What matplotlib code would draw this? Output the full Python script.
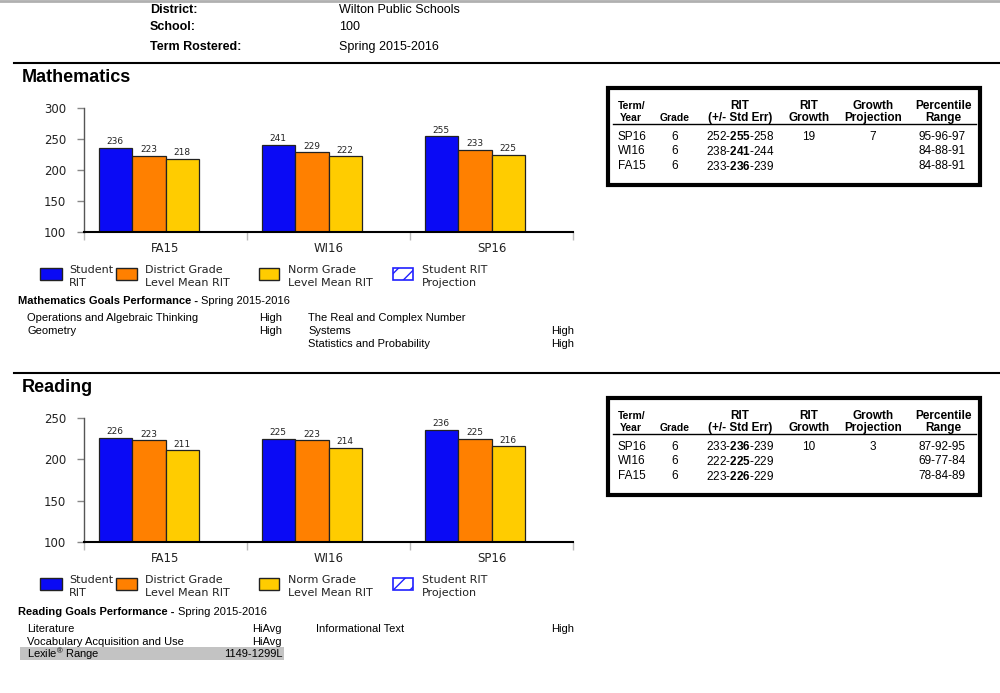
import numpy as np
import matplotlib.pyplot as plt
from matplotlib.patches import Rectangle

plt.rcParams['mathtext.fontset'] = 'custom'
plt.rcParams['mathtext.rm'] = 'Liberation Sans'
plt.rcParams['mathtext.bf'] = 'Liberation Sans:bold'

# data
terms = ['FA15', 'WI16', 'SP16']
series_names = ['Student\nRIT', 'District Grade\nLevel Mean RIT', 'Norm Grade\nLevel Mean RIT', 'Student RIT\nProjection']
math_student = [236, 241, 255]
math_district = [223, 229, 233]
math_norm = [218, 222, 225]
read_student = [226, 225, 236]
read_district = [223, 223, 225]
read_norm = [211, 214, 216]

header_labels = ['District:', 'School:', 'Term Rostered:']
header_values = ['Wilton Public Schools', '100', 'Spring 2015-2016']

table_terms = ['SP16', 'WI16', 'FA15']
table_grade = ['6', '6', '6']
math_rit = [(252, 255, 258), (238, 241, 244), (233, 236, 239)]
math_growth = ['19', '', '']
math_proj = ['7', '', '']
math_pct = ['95-96-97', '84-88-91', '84-88-91']
read_rit = [(233, 236, 239), (222, 225, 229), (223, 226, 229)]
read_growth = ['10', '', '']
read_proj = ['3', '', '']
read_pct = ['87-92-95', '69-77-84', '78-84-89']

math_goals_left = [('Operations and Algebraic Thinking', 'High'), ('Geometry', 'High')]
math_goals_right = [('The Real and Complex Number\nSystems', 'High'), ('Statistics and Probability', 'High')]
read_goals_left = [('Literature', 'HiAvg'), ('Vocabulary Acquisition and Use', 'HiAvg')]
read_goals_right = [('Informational Text', 'High')]
lexile = '1149-1299L'

colors = ['#0a0af5', '#ff8000', '#ffcc00']
W, H = 1000, 693
report_font = 'Liberation Sans'
chart_font = 'DejaVu Sans'

fig = plt.figure(figsize=(10, 6.93), dpi=100)
ov = fig.add_axes([0, 0, 1, 1], zorder=0)
ov.set_xlim(0, W)
ov.set_ylim(H, 0)
ov.axis('off')

#page header
ov.plot([0, W], [1, 1], color='#b0b0b0', lw=2)
for i, (lab, val) in enumerate(zip(header_labels, header_values)):
    y = [10, 27, 47][i]
    ov.text(150, y, lab, fontsize=9, fontweight='bold', family=report_font, va='center')
    ov.text(339, y, val, fontsize=9, family=report_font, va='center')


def chart(top, ymax, student, district, norm):
    #top = pixel y of ymax tick, bottom = top + 124
    bottom = top + 124
    ax = fig.add_axes([84 / W, 1 - bottom / H, (573 - 84) / W, 124 / H], zorder=2)
    ax.set_facecolor('none')
    x = np.arange(len(terms))
    w = 0.2055
    for k, vals in enumerate([student, district, norm]):
        bars = ax.bar(x + (k - 1.5) * w, [v - 100 for v in vals], w, bottom=100,
                      color=colors[k], edgecolor='#222222', linewidth=0.9, align='center')
        for b, v in zip(bars, vals):
            ax.annotate(str(v), (b.get_x() + b.get_width() / 2, v), xytext=(0, 1),
                        textcoords='offset points', ha='center', va='bottom',
                        fontsize=6.5, family=chart_font, color='#222222')
    ax.set_xlim(-0.5, 2.5)
    ax.set_ylim(100, ymax)
    ax.set_yticks(np.arange(100, ymax + 1, 50))
    ax.set_xticks([-0.5, 0.5, 1.5, 2.5])
    ax.set_xticklabels([])
    ax.tick_params(axis='x', length=6, color='#bbbbbb', width=1)
    ax.tick_params(axis='y', length=5, color='#888888', width=1, labelsize=8.5, pad=8)
    for t in ax.get_yticklabels():
        t.set_family(chart_font)
        t.set_color('#222222')
    for i, t in enumerate(terms):
        ax.text(i, -0.13, t, transform=ax.get_xaxis_transform(), ha='center', va='center',
                fontsize=8.5, family=chart_font, color='#222222')
    for s in ['top', 'right']:
        ax.spines[s].set_visible(False)
    ax.spines['left'].set_color('#555555')
    ax.spines['left'].set_linewidth(1)
    ax.spines['bottom'].set_color('black')
    ax.spines['bottom'].set_linewidth(1.5)
    return ax


def legend(y0):
    boxes = [(40, 62), (116, 137), (259, 279), (393, 413)]
    text_x = [69, 145, 288, 422]
    for k, ((x0, x1), tx, name) in enumerate(zip(boxes, text_x, series_names)):
        if k < 3:
            r = Rectangle((x0, y0 - 2), x1 - x0, 12, facecolor=colors[k], edgecolor='#222222', lw=1)
        else:
            r = Rectangle((x0, y0 - 2), x1 - x0, 12, facecolor='white', edgecolor='#2020ff',
                          lw=1.2, hatch='//')
        ov.add_patch(r)
        l1, l2 = name.split('\n')
        ov.text(tx, y0, l1, fontsize=8, family=chart_font, va='center', color='#222222')
        ov.text(tx, y0 + 13, l2, fontsize=8, family=chart_font, va='center', color='#222222')


def goals(y0, subject, left, right, right_x):
    fs = 8
    t = ov.text(18, y0, subject + ' Goals Performance - ', fontsize=fs, fontweight='bold',
                family=report_font, va='center')
    fig.canvas.draw()
    bb = t.get_window_extent()
    ov.text(bb.x1, H - y0, 'Spring 2015-2016', fontsize=fs, family=report_font, va='center',
            transform=None)
    for i, (name, rate) in enumerate(left):
        y = y0 + 17 + i * 13
        ov.text(27, y, name, fontsize=fs, family=report_font, va='center')
        ov.text(282, y, rate, fontsize=fs, family=report_font, va='center', ha='right')
    row = 0
    for name, rate in right:
        for ln in name.split('\n'):
            ov.text(right_x, y0 + 17 + row * 13, ln, fontsize=fs, family=report_font, va='center')
            row += 1
        ov.text(574, y0 + 17 + (row - 1) * 13, rate, fontsize=fs, family=report_font,
                va='center', ha='right')


def table(top, rit, growth, proj, pct):
    ov.add_patch(Rectangle((608, top), 372, 97, facecolor='none', edgecolor='black', lw=3))
    ov.plot([613, 976], [top + 36, top + 36], color='black', lw=1)
    hy1, hy2 = top + 18, top + 30
    ov.text(618, hy1, 'Term/', fontsize=7.5, fontweight='bold', family=report_font, va='center')
    ov.text(620, hy2, 'Year', fontsize=7.5, fontweight='bold', family=report_font, va='center')
    ov.text(675, hy2, 'Grade', fontsize=7.5, fontweight='bold', family=report_font, va='center', ha='center')
    for cx, a, b in [(740, 'RIT', '(+/- Std Err)'), (809, 'RIT', 'Growth'),
                     (873, 'Growth', 'Projection'), (943, 'Percentile', 'Range')]:
        ov.text(cx, hy1, a, fontsize=8.5, fontweight='bold', family=report_font, va='center', ha='center')
        ov.text(cx, hy2, b, fontsize=8.5, fontweight='bold', family=report_font, va='center', ha='center')
    for i in range(len(table_terms)):
        y = top + 49 + i * 14.5
        ov.text(618, y, table_terms[i], fontsize=8.5, family=report_font, va='center')
        ov.text(675, y, table_grade[i], fontsize=8.5, family=report_font, va='center', ha='center')
        lo, mid, hi = rit[i]
        ov.text(740, y, '%d-$\\mathbf{%d}$-%d' % (lo, mid, hi), fontsize=8.5, family=report_font,
                va='center', ha='center')
        ov.text(809, y, growth[i], fontsize=8.5, family=report_font, va='center', ha='center')
        ov.text(873, y, proj[i], fontsize=8.5, family=report_font, va='center', ha='center')
        ov.text(942, y, pct[i], fontsize=8.5, family=report_font, va='center', ha='center')


#Mathematics section
ov.plot([14, W], [63, 63], color='black', lw=1.5)
ov.text(22, 77, 'Mathematics', fontsize=13, fontweight='bold', family=report_font, va='center')
chart(108, 300, math_student, math_district, math_norm)
legend(270)
table(88, math_rit, math_growth, math_proj, math_pct)
goals(301, 'Mathematics', math_goals_left, math_goals_right, 308)

#Reading section
ov.plot([14, W], [373, 373], color='black', lw=1.5)
ov.text(22, 387, 'Reading', fontsize=13, fontweight='bold', family=report_font, va='center')
chart(418, 250, read_student, read_district, read_norm)
legend(580)
table(398, read_rit, read_growth, read_proj, read_pct)
goals(612, 'Reading', read_goals_left, read_goals_right, 316)
#lexile row
ov.add_patch(Rectangle((20, 647), 264, 13, facecolor='#c3c3c3', edgecolor='none', zorder=0))
ov.text(27, 654, 'Lexile$^{\u00ae}$ Range', fontsize=8, family=report_font, va='center')
ov.text(283, 654, lexile, fontsize=8, family=report_font, va='center', ha='right')

fig.savefig('out.png', dpi=100)
